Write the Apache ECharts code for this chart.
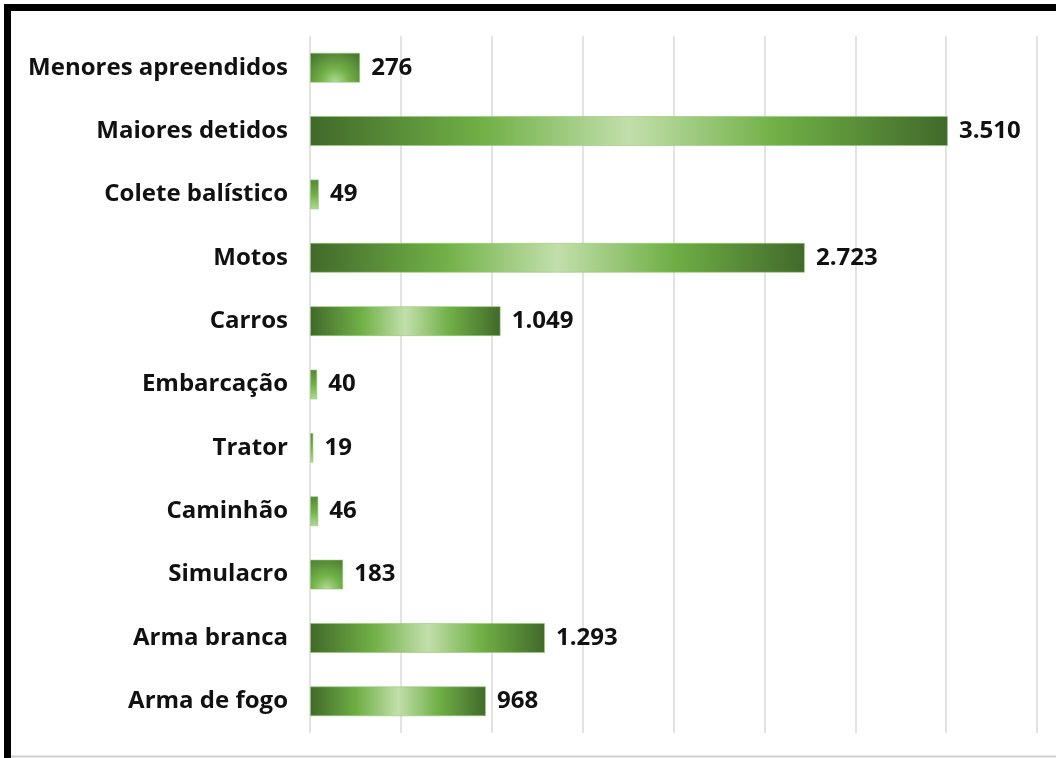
<!DOCTYPE html>
<html>
<head>
<meta charset="UTF-8">
<title>Apreensões</title>
<script src="https://cdn.jsdelivr.net/npm/echarts@6/dist/echarts.min.js"></script>
<style>
  html, body { margin: 0; padding: 0; background: #fff; }
  #container { width: 1056px; height: 758px; }
</style>
</head>
<body>
<div id="container"></div>
<script>
// categorias (de baixo para cima, como no eixo)
var categorias = ['Arma de fogo', 'Arma branca', 'Simulacro', 'Caminhão', 'Trator',
  'Embarcação', 'Carros', 'Motos', 'Colete balístico', 'Maiores detidos', 'Menores apreendidos'];
var valores = [968, 1293, 183, 46, 19, 40, 1049, 2723, 49, 3510, 276];
var eixoMax = 4000;
var eixoPasso = 500;

// gradiente das barras
var escuro = '#41692a', verde = '#70b046', claro = '#c2dfab';
function corBarra(v) {
  if (v >= 600) {
    return new echarts.graphic.LinearGradient(0, 0, 1, 0, [
      {offset: 0, color: escuro},
      {offset: 0.27, color: verde},
      {offset: 0.5, color: claro},
      {offset: 0.73, color: verde},
      {offset: 1, color: escuro}
    ]);
  }
  // barras curtas: brilho no centro de baixo
  var w = Math.max(v * 727 / eixoMax, 2);
  var r = 40 / Math.min(w, 30);
  return new echarts.graphic.RadialGradient(0.5, 1, r, [
    {offset: 0, color: '#b4dc98'},
    {offset: 0.35, color: '#74b34a'},
    {offset: 1, color: '#3f6a28'}
  ]);
}

var dados = valores.map(function (v) {
  return {value: v, itemStyle: {color: corBarra(v), borderColor: 'rgba(150,200,120,0.6)', borderWidth: 1}};
});

function milhar(n) {
  return String(n).replace(/\B(?=(\d{3})+(?!\d))/g, '.');
}

var fonte = 'Open Sans';
var myChart = echarts.init(document.getElementById('container'));
var option = {
  backgroundColor: '#fff',
  animation: false,
  grid: {left: 310, right: 19, top: 36, bottom: 25, containLabel: false},
  xAxis: {
    type: 'value',
    min: 0,
    max: eixoMax,
    interval: eixoPasso,
    axisLabel: {show: false},
    axisLine: {show: false},
    axisTick: {show: false},
    splitLine: {show: true, lineStyle: {color: '#e3e3e3', width: 2}}
  },
  yAxis: {
    type: 'category',
    data: categorias,
    axisLine: {show: false},
    axisTick: {show: false},
    axisLabel: {
      margin: 22,
      color: '#111',
      fontFamily: fonte,
      fontWeight: 'bold',
      fontSize: 24
    }
  },
  series: [{
    type: 'bar',
    data: dados,
    barWidth: 30,
    label: {
      show: true,
      position: 'right',
      distance: 11,
      color: '#111',
      fontFamily: fonte,
      fontWeight: 'bold',
      fontSize: 24,
      formatter: function (p) { return milhar(p.value); }
    }
  }],
  graphic: [
    {type: 'line', shape: {x1: 7.5, y1: 4, x2: 7.5, y2: 758}, style: {stroke: '#000', lineWidth: 7}},
    {type: 'line', shape: {x1: 4, y1: 7.5, x2: 1056, y2: 7.5}, style: {stroke: '#000', lineWidth: 7}},
    {type: 'line', shape: {x1: 11, y1: 756.5, x2: 1056, y2: 756.5}, style: {stroke: '#d0d0d0', lineWidth: 2}}
  ]
};
myChart.setOption(option, true);
</script>
</body>
</html>
